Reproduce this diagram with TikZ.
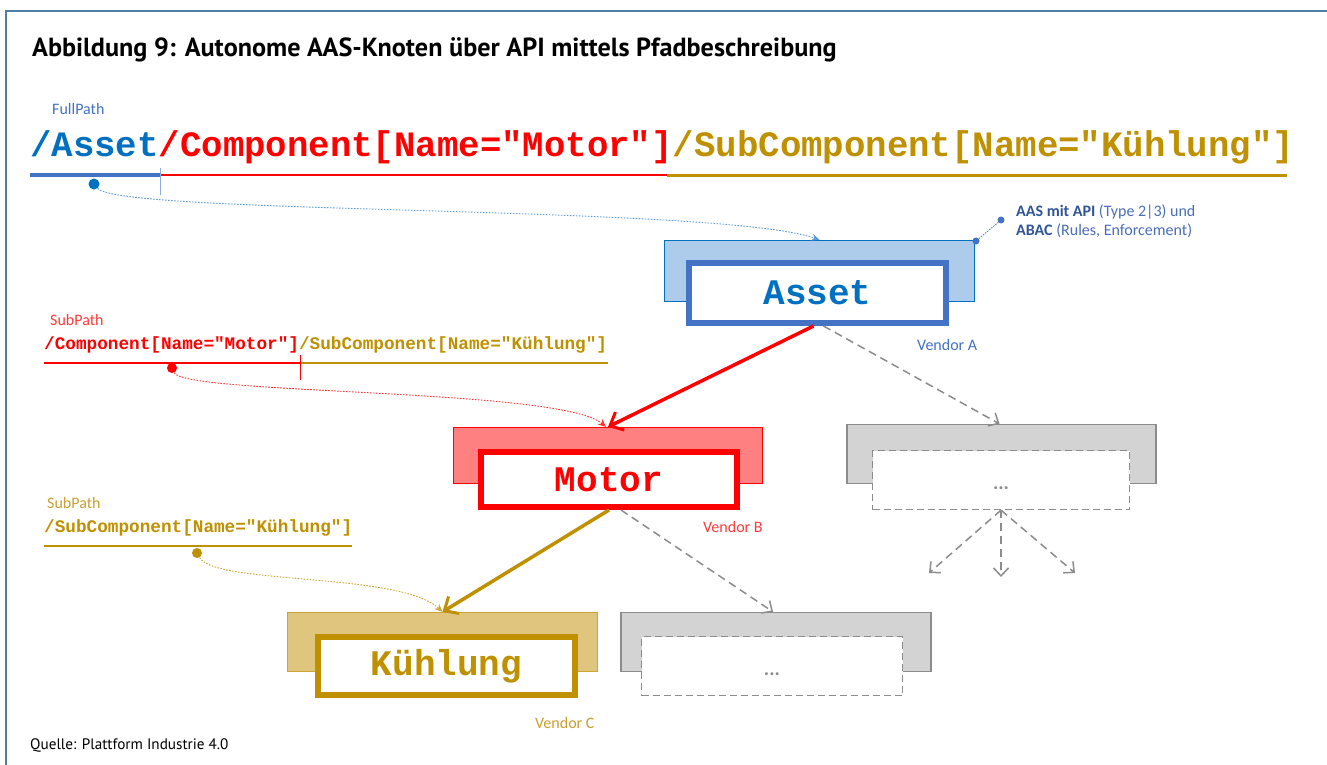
\documentclass[tikz,border=0pt]{standalone}
\usepackage{fontspec}
\setmainfont{Carlito}
\newfontfamily\cour{Liberation Mono}
\newfontfamily\ptsans{PT Sans}
\usetikzlibrary{arrows.meta}
\definecolor{cblue}{HTML}{0070C0}
\definecolor{cbluetwo}{HTML}{4472C4}
\definecolor{cbluefill}{HTML}{ADCBEA}
\definecolor{cbluelight}{HTML}{5B9BD5}
\definecolor{cred}{HTML}{FF0000}
\definecolor{credfill}{HTML}{FF8080}
\definecolor{credlabel}{HTML}{FF3B3B}
\definecolor{cgold}{HTML}{BF9000}
\definecolor{cgoldfill}{HTML}{DFC57E}
\definecolor{cgoldlabel}{HTML}{C9A030}
\definecolor{cgray}{HTML}{8C8C8C}
\definecolor{cgrayfill}{HTML}{D3D3D3}
\definecolor{cframe}{HTML}{4F7FA6}
\definecolor{cannodark}{HTML}{2F5597}
\definecolor{cannolight}{HTML}{4A6FB8}
\tikzset{
  outerbox/.style={rectangle, inner sep=0pt, line width=1.3pt},
  innerbox/.style={rectangle, fill=white, inner sep=0pt, line width=6pt,
    font=\cour\bfseries\fontsize{36}{40}\selectfont},
  graybox/.style={outerbox, draw=cgray, fill=cgrayfill},
  grayinner/.style={rectangle, inner sep=0pt, fill=white, draw=cgray, line width=1.3pt,
    dash pattern=on 7pt off 4pt, font=\bfseries\fontsize{20}{22}\selectfont, text=cgray},
  pathbig/.style={inner sep=0pt, anchor=base west, font=\cour\bfseries\fontsize{35.7}{40}\selectfont},
  pathsmall/.style={inner sep=0pt, anchor=base west, font=\cour\bfseries\fontsize{17.7}{20}\selectfont},
  smalllabel/.style={inner sep=0pt, anchor=base west, font=\fontsize{16}{18}\selectfont},
  vendor/.style={inner sep=0pt, anchor=base west, font=\fontsize{16}{18}\selectfont},
  bigarrow/.style={line width=3.5pt, -{Straight Barb[length=11pt,width=20pt,line width=3pt]}},
  grayarrow/.style={draw=cgray, line width=1.5pt, dash pattern=on 8pt off 5pt,
    -{Straight Barb[length=8pt,width=15pt,line width=1.5pt]}},
  dotcurve/.style={line width=0.9pt, dash pattern=on 1.6pt off 1.4pt,
    -{Stealth[length=8pt,width=7pt]}},
  pathdot/.style={circle, inner sep=0pt, minimum size=11pt},
  annodot/.style={circle, inner sep=0pt, minimum size=7pt, fill=cbluetwo}
}
\begin{document}
\begin{tikzpicture}[x=1pt,y=-1pt]
\useasboundingbox (0,0) rectangle (1327,765);
\fill[white] (0,0) rectangle (1327,765);
% frame
\draw[cframe, line width=2pt] (6,800) -- (6,11) -- (1340,11);

% title
\node[inner sep=0pt, anchor=base west, font=\ptsans\bfseries\fontsize{26.2}{30}\selectfont] (title) at (32,57)
  {Abbildung 9: Autonome AAS-Knoten über API mittels Pfadbeschreibung};
\node[inner sep=0pt, anchor=base west, font=\ptsans\fontsize{15.2}{17}\selectfont] (quelle) at (30,749)
  {Quelle: Plattform Industrie 4.0};

% full path
\node[smalllabel, text=cbluetwo] (fulllabel) at (52,115) {FullPath};
\node[pathbig] (fullpath) at (30,157)
  {{\color{cblue}/Asset}{\color{cred}/Component[Name="Motor"]}{\color{cgold}/SubComponent[Name="Kühlung"]}};
\draw[cgold, line width=2.5pt] (667,175.5) -- (1287,175.5);
\draw[cred, line width=2pt] (160,175) -- (667,175);
\draw[cbluetwo, line width=4pt] (30,175) -- (160,175);
\draw[cbluetwo!60, line width=0.8pt] (160,168) -- (160,195);
\node[pathdot, fill=cblue] (dotA) at (94,184) {};

% subpath red
\node[smalllabel, text=credlabel] (sublabelB) at (50,325) {SubPath};
\node[pathsmall] (subpathB) at (44,349)
  {{\color{cred}/Component[Name="Motor"]}{\color{cgold}/SubComponent[Name="Kühlung"]}};
\draw[cgold, line width=2.5pt] (300,363) -- (608,363);
\draw[cred, line width=2.5pt] (44,363) -- (300,363);
\draw[cred, line width=0.7pt] (300,355) -- (300,380);
\node[pathdot, fill=cred, minimum size=10pt] (dotB) at (172,368) {};

% subpath gold
\node[smalllabel, text=cgoldlabel] (sublabelC) at (47,508) {SubPath};
\node[pathsmall] (subpathC) at (44,532)
  {{\color{cgold}/SubComponent[Name="Kühlung"]}};
\draw[cgold, line width=2.5pt] (44,546) -- (352,546);
\node[pathdot, fill=cgold, minimum size=10pt] (dotC) at (197,553) {};

% Asset node
\node[outerbox, draw=cblue, fill=cbluefill, minimum width=310pt, minimum height=61pt] (assetout) at (819.5,271) {};
\node[innerbox, draw=cbluetwo, text=cblue, minimum width=257pt, minimum height=60pt] (assetin) at (817.5,293) {Asset};
\node[vendor, text=cbluetwo] (vendA) at (917,350) {Vendor A};

% annotation
\node[annodot] (annoA) at (976,241) {};
\node[annodot] (annoB) at (1001,220) {};
\draw[cbluetwo, line width=0.8pt, dash pattern=on 1.5pt off 1.2pt] (annoA) -- (annoB);
\node[smalllabel, text=cannolight] (annoT1) at (1016,216) {{\color{cannodark}\bfseries AAS mit API} (Type 2|3) und};
\node[smalllabel, text=cannolight] (annoT2) at (1016,235) {{\color{cannodark}\bfseries ABAC} (Rules, Enforcement)};

% Motor node
\node[outerbox, draw=cred, fill=credfill, minimum width=309pt, minimum height=56pt] (motorout) at (608,455.5) {};
\node[innerbox, draw=cred, text=cred, minimum width=256pt, minimum height=55pt] (motorin) at (609,479.5) {Motor};
\node[vendor, text=credlabel] (vendB) at (703,532) {Vendor B};

% Kuehlung node
\node[outerbox, draw=cgold!80, fill=cgoldfill, minimum width=310pt, minimum height=59pt] (kuehout) at (442.5,642) {};
\node[innerbox, draw=cgold, text=cgold, minimum width=257pt, minimum height=58pt] (kuehin) at (446.5,666) {Kühlung};
\node[vendor, text=cgoldlabel] (vendC) at (535,728) {Vendor C};

% gray boxes
\node[graybox, minimum width=309pt, minimum height=59pt] (grayAout) at (1001.5,454) {};
\node[grayinner, minimum width=257pt, minimum height=59pt] (grayAin) at (1001,480) {\raisebox{-9pt}[0pt][0pt]{...}};
\node[graybox, minimum width=310pt, minimum height=59pt] (grayBout) at (776,642) {};
\node[grayinner, minimum width=261pt, minimum height=59pt] (grayBin) at (772,666) {\raisebox{-9pt}[0pt][0pt]{...}};

% connectors
\draw[bigarrow, cred] ([xshift=-4pt]assetin.south) -- (motorout.north);
\draw[grayarrow] ([xshift=6pt]assetin.south) -- ([xshift=-2pt]grayAout.north);
\draw[bigarrow, cgold] (motorin.south) -- (kuehout.north);
\draw[grayarrow] ([xshift=12pt]motorin.south) -- ([xshift=-3pt]grayBout.north);
\coordinate (fanL) at (929,573);
\coordinate (fanM) at (1001,577);
\coordinate (fanR) at (1075,573);
\draw[grayarrow] (grayAin.south) -- (fanL);
\draw[grayarrow] (grayAin.south) -- (fanM);
\draw[grayarrow] (grayAin.south) -- (fanR);

% dotted curves
\draw[dotcurve, cbluelight] (dotA) .. controls (120,215) and (720,205) .. (assetout.north);
\draw[dotcurve, cred!80] (dotB) .. controls (185,395) and (560,388) .. ([xshift=-2pt]motorout.north);
\draw[dotcurve, cgold!80] (dotC) .. controls (215,585) and (400,572) .. (kuehout.north);
\end{tikzpicture}
\end{document}
